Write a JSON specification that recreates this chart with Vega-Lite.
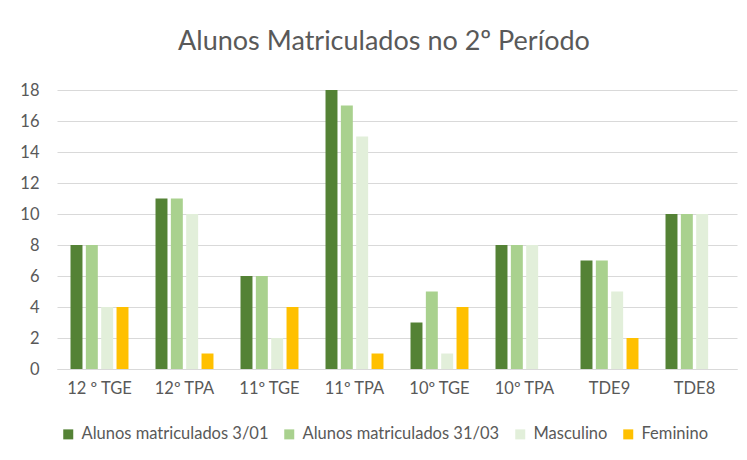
{
  "$schema": "https://vega.github.io/schema/vega-lite/v6.json",
  "width": 680,
  "height": 279,
  "autosize": {"type": "none"},
  "padding": {"left": 57, "top": 90, "right": 10, "bottom": 91},
  "background": "white",
  "title": {
    "text": "Alunos Matriculados no 2º Período",
    "font": "Lato",
    "fontSize": 27,
    "fontWeight": "normal",
    "color": "#595959",
    "offset": 26,
    "dx": -13
  },
  "data": {
    "values": [
      {"turma": "12 º TGE", "serie": "Alunos matriculados 3/01", "valor": 8},
      {"turma": "12 º TGE", "serie": "Alunos matriculados 31/03", "valor": 8},
      {"turma": "12 º TGE", "serie": "Masculino", "valor": 4},
      {"turma": "12 º TGE", "serie": "Feminino", "valor": 4},
      {"turma": "12º TPA", "serie": "Alunos matriculados 3/01", "valor": 11},
      {"turma": "12º TPA", "serie": "Alunos matriculados 31/03", "valor": 11},
      {"turma": "12º TPA", "serie": "Masculino", "valor": 10},
      {"turma": "12º TPA", "serie": "Feminino", "valor": 1},
      {"turma": "11º TGE", "serie": "Alunos matriculados 3/01", "valor": 6},
      {"turma": "11º TGE", "serie": "Alunos matriculados 31/03", "valor": 6},
      {"turma": "11º TGE", "serie": "Masculino", "valor": 2},
      {"turma": "11º TGE", "serie": "Feminino", "valor": 4},
      {"turma": "11º TPA", "serie": "Alunos matriculados 3/01", "valor": 18},
      {"turma": "11º TPA", "serie": "Alunos matriculados 31/03", "valor": 17},
      {"turma": "11º TPA", "serie": "Masculino", "valor": 15},
      {"turma": "11º TPA", "serie": "Feminino", "valor": 1},
      {"turma": "10º TGE", "serie": "Alunos matriculados 3/01", "valor": 3},
      {"turma": "10º TGE", "serie": "Alunos matriculados 31/03", "valor": 5},
      {"turma": "10º TGE", "serie": "Masculino", "valor": 1},
      {"turma": "10º TGE", "serie": "Feminino", "valor": 4},
      {"turma": "10º TPA", "serie": "Alunos matriculados 3/01", "valor": 8},
      {"turma": "10º TPA", "serie": "Alunos matriculados 31/03", "valor": 8},
      {"turma": "10º TPA", "serie": "Masculino", "valor": 8},
      {"turma": "10º TPA", "serie": "Feminino", "valor": 0},
      {"turma": "TDE9", "serie": "Alunos matriculados 3/01", "valor": 7},
      {"turma": "TDE9", "serie": "Alunos matriculados 31/03", "valor": 7},
      {"turma": "TDE9", "serie": "Masculino", "valor": 5},
      {"turma": "TDE9", "serie": "Feminino", "valor": 2},
      {"turma": "TDE8", "serie": "Alunos matriculados 3/01", "valor": 10},
      {"turma": "TDE8", "serie": "Alunos matriculados 31/03", "valor": 10},
      {"turma": "TDE8", "serie": "Masculino", "valor": 10},
      {"turma": "TDE8", "serie": "Feminino", "valor": 0}
    ]
  },
  "mark": {"type": "bar"},
  "encoding": {
    "x": {
      "field": "turma",
      "type": "nominal",
      "sort": ["12 º TGE", "12º TPA", "11º TGE", "11º TPA", "10º TGE", "10º TPA", "TDE9", "TDE8"],
      "scale": {"paddingInner": 0.318, "paddingOuter": 0.159},
      "axis": {
        "title": null,
        "labelAngle": 0,
        "labelFont": "Lato",
        "labelFontSize": 16.5,
        "labelColor": "#595959",
        "labelPadding": 11,
        "ticks": false,
        "domainColor": "#d9d9d9",
        "domainWidth": 1
      }
    },
    "xOffset": {
      "field": "serie",
      "type": "nominal",
      "sort": ["Alunos matriculados 3/01", "Alunos matriculados 31/03", "Masculino", "Feminino"],
      "scale": {"paddingInner": 0.22, "paddingOuter": 0}
    },
    "y": {
      "field": "valor",
      "type": "quantitative",
      "scale": {"domain": [0, 18], "nice": false},
      "axis": {
        "title": null,
        "values": [0, 2, 4, 6, 8, 10, 12, 14, 16, 18],
        "labelFont": "Lato",
        "labelFontSize": 16.5,
        "labelColor": "#595959",
        "labelPadding": 18,
        "ticks": false,
        "domain": false,
        "gridColor": "#d9d9d9",
        "gridWidth": 1
      }
    },
    "color": {
      "field": "serie",
      "type": "nominal",
      "scale": {
        "domain": ["Alunos matriculados 3/01", "Alunos matriculados 31/03", "Masculino", "Feminino"],
        "range": ["#548235", "#A9D18E", "#E2EFDA", "#FFC000"]
      },
      "legend": {
        "title": null,
        "orient": "none",
        "direction": "horizontal",
        "legendX": 3,
        "legendY": 336,
        "symbolType": "square",
        "symbolSize": 100,
        "symbolStrokeWidth": 0,
        "labelFont": "Lato",
        "labelFontSize": 16.5,
        "labelColor": "#595959",
        "labelLimit": 0,
        "columnPadding": 12,
        "labelOffset": 5
      }
    }
  },
  "config": {
    "view": {"stroke": null}
  }
}
